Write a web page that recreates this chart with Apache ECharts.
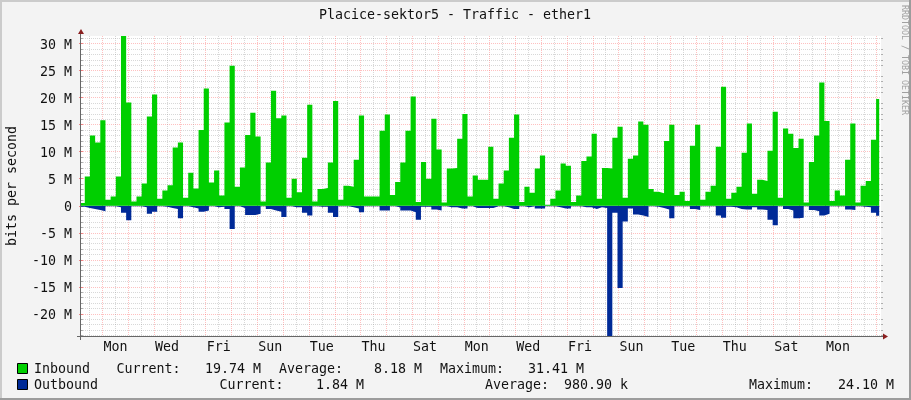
<!DOCTYPE html>
<html><head><meta charset="utf-8">
<style>html,body{margin:0;padding:0;background:#f3f3f3}#c{width:911px;height:400px}</style>
<script src="https://cdn.jsdelivr.net/npm/echarts@6/dist/echarts.min.js"></script>
</head><body><div id="c"></div>
<script>
const inbound = [0.5,5.4,13,11.7,15.8,1.1,1.7,5.4,31.41,19.1,0.8,1.7,4.1,16.5,20.6,1.3,2.8,3.8,10.8,11.7,1.5,6.1,3.2,14,21.7,4.3,6.5,1.9,15.4,25.9,3.5,7.1,13.1,17.2,12.8,0.8,8,21.3,16.2,16.7,1.5,5,2.5,
8.9,18.7,0.8,3.1,3.3,8,19.4,1.1,3.7,3.5,8.5,16.7,1.7,1.7,1.7,13.9,16.9,2,4.4,8,13.9,20.2,0.7,8.1,5,16.1,10.4,0.6,6.9,7,12.4,17,1.7,5.6,4.8,4.8,10.9,1.3,4.1,6.5,12.6,16.9,0.7,3.5,2.4,6.9,9.3,0.2,1.3,2.8,7.8,7.4,0.7,1.9,8.3,9.1,13.3,1.3,
7,6.9,12.6,14.6,1.5,8.7,9.3,15.6,15,3.1,2.6,2.3,12,15,2,2.6,0.9,11.1,15,1.1,2.6,3.7,10.9,22,1.3,2.4,3.5,9.8,15.2,2.2,4.8,4.6,10.2,17.4,1.5,14.3,13.3,10.7,12.4,0.6,8.1,13,22.8,15.7,0.9,2.8,1.9,8.5,15.2,0.6,3.7,4.6,12.2,19.74];
const outbound = [0.2,0.4,0.6,0.8,1,0.1,0.1,0.3,1.3,2.7,0.1,0.1,0.3,1.5,1.1,0.1,0.2,0.4,0.6,2.3,0.1,0.3,0.5,1.1,0.9,0.1,0.3,0.2,0.6,4.3,0.1,0.4,1.7,1.7,1.5,0.1,0.6,0.9,1.1,2.1,0.1,0.3,0.3,
1.3,1.8,0.1,0.2,0.2,1.3,2.1,0.1,0.1,0.3,0.5,1.2,0.1,0.1,0.1,0.9,0.9,0.1,0.3,0.9,0.9,1.2,2.6,0.2,0.2,0.7,0.9,0.1,0.3,0.3,0.5,0.5,0.1,0.4,0.4,0.4,0.4,0.1,0.1,0.3,0.6,0.6,0.1,0.3,0.1,0.5,0.5,0.1,0.1,0.3,0.5,0.5,0.1,0.1,0.3,0.3,0.6,0.3,
0.4,24.1,1.3,15.2,2.9,0.5,1.6,1.8,2.1,0.1,0.2,0.4,0.7,2.3,0.1,0.1,0.1,0.6,0.8,0.1,0.1,0.1,1.8,2.2,0.2,0.3,0.6,0.7,0.7,0.3,0.7,0.8,2.6,3.6,0.1,0.6,0.9,2.3,2.2,0.1,0.8,1,1.8,1.5,0.1,0.1,0.1,0.7,0.8,0.1,0.2,0.3,1.3,1.84];
const dayLabels = ['Mon','Wed','Fri','Sun','Tue','Thu','Sat','Mon','Wed','Fri','Sun','Tue','Thu','Sat','Mon'];
const yLabels = [-20,-15,-10,-5,0,5,10,15,20,25,30];
const yMinor = [-24,-23,-22,-21,-19,-18,-17,-16,-14,-13,-12,-11,-9,-8,-7,-6,-4,-3,-2,-1,1,2,3,4,6,7,8,9,11,12,13,14,16,17,18,19,21,22,23,24,26,27,28,29,31];
const sampleHours = 4.81, startHour = -1.3, endHour = 742.3;
const labelHours = dayLabels.map((_, i) => 32 + 48 * i);
const dayHours = Array.from({length: 31}, (_, i) => 20 + 24 * i);
const halfHours = Array.from({length: 31}, (_, i) => 8 + 24 * i);
const legendRows = [
  [[34,'Inbound'],[116.5,'Current:'],[205,'19.74 M'],[279,'Average:'],[374,'8.18 M'],[440,'Maximum:'],[528,'31.41 M']],
  [[34,'Outbound'],[219.5,'Current:'],[316,'1.84 M'],[485,'Average:'],[564,'980.90 k'],[749,'Maximum:'],[838,'24.10 M']]
];
const MONO = '"DejaVu Sans Mono", monospace', TXT = '#111';
const RED = 'rgba(255,90,90,0.38)', GRAY = 'rgba(140,140,140,0.34)', AXIS = '#666';
const TICKRED = 'rgba(230,90,90,0.7)', TICKGRAY = 'rgba(130,130,130,0.6)';
const toSteps = (vals, sign) => {
  const pts = vals.map((v, i) => [startHour + sampleHours * i, sign * v]);
  pts.push([endHour, sign * vals[vals.length - 1]]);
  return pts;
};
const txt = (x, y, s, extra) => ({type:'text', x, y, silent:true, z:20,
  style:Object.assign({text:s, fill:TXT, font:'13.3px '+MONO, textVerticalAlign:'middle'}, extra||{})});
const graphics = [
  {type:'rect', silent:true, z:19, shape:{x:0,y:0,width:911,height:2}, style:{fill:'#cbcbcb'}},
  {type:'rect', silent:true, z:19, shape:{x:0,y:0,width:2,height:400}, style:{fill:'#cbcbcb'}},
  {type:'rect', silent:true, z:19, shape:{x:909,y:0,width:2,height:400}, style:{fill:'#9c9c9c'}},
  {type:'rect', silent:true, z:19, shape:{x:0,y:398,width:911,height:2}, style:{fill:'#9c9c9c'}},
  {type:'line', silent:true, z:15, shape:{x1:80.5,y1:33,x2:80.5,y2:340}, style:{stroke:AXIS,lineWidth:1}},
  {type:'line', silent:true, z:15, shape:{x1:77,y1:336.5,x2:884,y2:336.5}, style:{stroke:AXIS,lineWidth:1}},
  {type:'polygon', silent:true, z:16, shape:{points:[[81,29],[78,34],[84,34]]}, style:{fill:'#8a1f1f'}},
  {type:'polygon', silent:true, z:16, shape:{points:[[888,336.5],[883,333.5],[883,339.5]]}, style:{fill:'#8a1f1f'}},
  txt(455,15.5,'Placice-sektor5 - Traffic - ether1',{textAlign:'center'}),
  {type:'text', silent:true, z:20, x:12.5, y:186, rotation:Math.PI/2,
   style:{text:'bits per second', fill:TXT, font:'13.3px '+MONO, textAlign:'center', textVerticalAlign:'middle'}},
  {type:'text', silent:true, z:20, x:904, y:60, rotation:-Math.PI/2,
   style:{text:'RRDTOOL / TOBI OETIKER', fill:'#a0a0a0', font:'8.3px '+MONO, textAlign:'center', textVerticalAlign:'middle'}},
  {type:'rect', silent:true, z:20, shape:{x:17.5,y:363.5,width:10,height:10}, style:{fill:'#00CF00',stroke:'#000',lineWidth:1}},
  {type:'rect', silent:true, z:20, shape:{x:17.5,y:379.5,width:10,height:10}, style:{fill:'#002A97',stroke:'#000',lineWidth:1}}
];
legendRows.forEach((row, r) => row.forEach(([x, s]) => graphics.push(txt(x, 370 + 16 * r, s))));
const baseX = {type:'value', min:0, max:744, position:'bottom', axisLine:{show:false}, axisLabel:{show:false}, splitLine:{show:false}};
const baseY = {type:'value', min:-24.1, max:31.41, axisLine:{show:false}, axisLabel:{show:false}, splitLine:{show:false}};
const stepSeries = (name, vals, sign, color, z) => ({name, type:'line', step:'end', xAxisIndex:0, yAxisIndex:0,
  data:toSteps(vals, sign), showSymbol:false, symbol:'none', silent:true, z,
  lineStyle:{width:0, color}, itemStyle:{color}, areaStyle:{color, opacity:1}});
const chart = echarts.init(document.getElementById('c'), null, {renderer:'canvas'});
chart.setOption({
  animation:false,
  backgroundColor:'#f3f3f3',
  grid:{left:81, top:36, width:800, height:300, show:true, backgroundColor:'#fff', borderWidth:0, containLabel:false},
  xAxis:[
    Object.assign({}, baseX, {
      axisTick:{show:true, length:3, lineStyle:{color:AXIS}, customValues:dayHours},
      splitLine:{show:true, lineStyle:{color:RED, type:[1,1], width:1}},
      axisLabel:{show:true, customValues:labelHours, margin:5, color:TXT, fontFamily:'DejaVu Sans Mono', fontSize:13.3,
        formatter:v => dayLabels[(v - 32) / 48]}
    }),
    Object.assign({}, baseX, {
      axisTick:{show:true, length:2, lineStyle:{color:'#999'}, customValues:halfHours},
      splitLine:{show:true, lineStyle:{color:GRAY, type:[1,1], width:1}}
    }),
    Object.assign({}, baseX, {position:'top',
      axisTick:{show:true, length:2, lineStyle:{color:TICKRED}, customValues:dayHours}
    })
  ],
  yAxis:[
    Object.assign({}, baseY, {
      axisTick:{show:true, length:2, lineStyle:{color:TICKRED}, customValues:yLabels},
      splitLine:{show:true, lineStyle:{color:RED, type:[1,1], width:1}},
      axisLabel:{show:true, customValues:yLabels, margin:9, verticalAlign:'top', lineHeight:3, color:TXT, fontFamily:'DejaVu Sans Mono', fontSize:13.3,
        formatter:v => v === 0 ? '0' : v + ' M'}}),
    Object.assign({}, baseY, {
      axisTick:{show:true, length:2, lineStyle:{color:TICKGRAY}, customValues:yMinor},
      splitLine:{show:true, lineStyle:{color:GRAY, type:[1,1], width:1}}}),
    Object.assign({}, baseY, {position:'right',
      axisTick:{show:true, length:2, lineStyle:{color:TICKRED}, customValues:yLabels}}),
    Object.assign({}, baseY, {position:'right',
      axisTick:{show:true, length:2, lineStyle:{color:TICKGRAY}, customValues:yMinor}})
  ],
  series:[
    stepSeries('Outbound', outbound, -1, '#002A97', 5),
    stepSeries('Inbound', inbound, 1, '#00CF00', 6)
  ],
  graphic:graphics
});
</script></body></html>
